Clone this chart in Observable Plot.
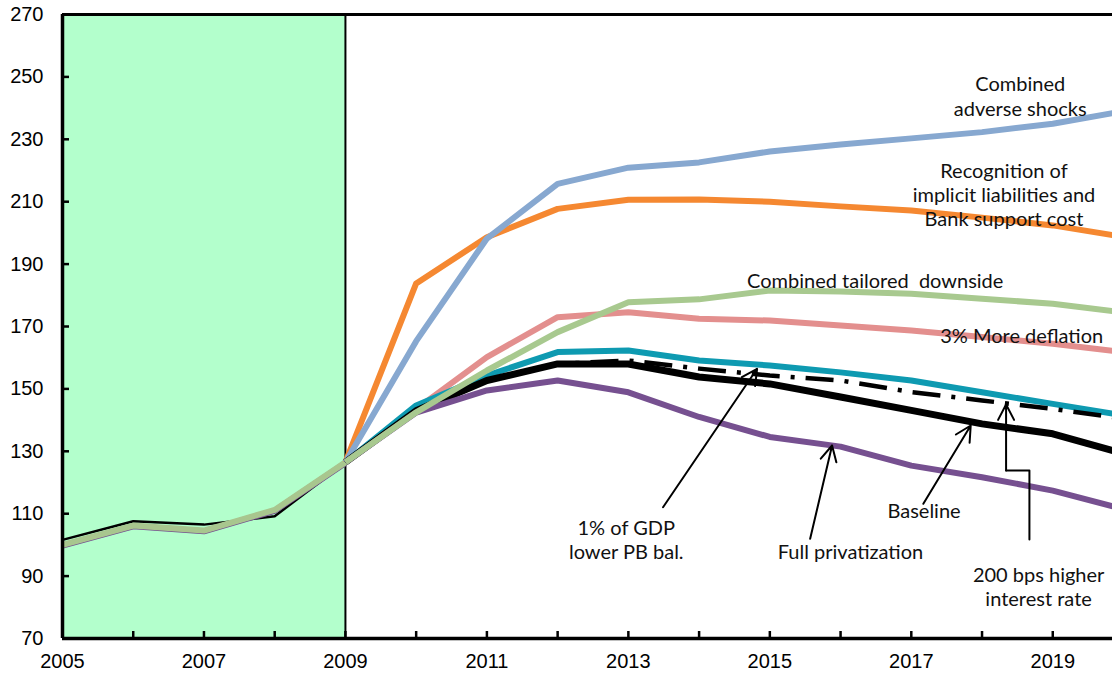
<!DOCTYPE html>
<html>
<head>
<meta charset="utf-8">
<script src="https://cdn.jsdelivr.net/npm/d3@7"></script>
<script src="https://cdn.jsdelivr.net/npm/@observablehq/plot@0.6"></script>
<style>
  html, body { margin: 0; padding: 0; background: white; overflow: hidden; }
</style>
</head>
<body>
<div id="chart"></div>
<script>
// ---------- data ----------
const histYears = [2005, 2006, 2007, 2008, 2009];
const histScenarios = [100, 106.2, 104.6, 111.2, 126.5];
const histBaseline = [101.6, 107.6, 106.5, 109.2, 126.3];

const years = [2009, 2010, 2011, 2012, 2013, 2014, 2015, 2016, 2017, 2018, 2019, 2020];
const adverseShocks   = [126.5, 165.3, 198.2, 215.7, 220.9, 222.6, 226.1, 228.3, 230.3, 232.3, 235.0, 239.0];
const recognition     = [126.5, 183.8, 198.6, 207.7, 210.6, 210.7, 210.0, 208.5, 207.2, 204.9, 202.4, 198.7];
const tailored        = [126.5, 142.5, 155.9, 168.2, 177.8, 178.7, 181.5, 181.2, 180.5, 178.9, 177.3, 174.5];
const deflation       = [126.5, 143.5, 160.2, 173.0, 174.6, 172.5, 171.9, 170.3, 168.7, 166.6, 164.5, 161.8];
const lowerPB         = [126.5, 144.7, 154.3, 161.8, 162.3, 159.1, 157.5, 155.3, 152.7, 148.9, 145.2, 141.5];
const higherRate      = [126.5, 143.0, 152.7, 158.0, 159.1, 156.5, 154.3, 152.7, 149.0, 146.3, 143.6, 140.5];
const baseline        = [126.5, 143.0, 152.7, 158.0, 158.0, 153.8, 151.6, 147.4, 143.1, 138.8, 135.6, 129.3];
const privatization   = [126.5, 142.4, 149.5, 152.7, 148.9, 141.0, 134.6, 131.5, 125.4, 121.7, 117.4, 111.5];

const shadedPeriods = [{start: 2005, end: 2009}];
const yTicks = [70, 90, 110, 130, 150, 170, 190, 210, 230, 250, 270];
const xTickYears = d3.range(2005, 2021);
const xLabelYears = [2005, 2007, 2009, 2011, 2013, 2015, 2017, 2019];

// annotation labels (data coordinates)
const labels = [
  {x: 2018.54, y: 244.0, text: "Combined\nadverse shocks"},
  {x: 2018.31, y: 212.4, text: "Recognition of\nimplicit liabilities and\nBank support cost"},
  {x: 2016.49, y: 185.0, text: "Combined tailored  downside"},
  {x: 2018.56, y: 167.15, text: "3% More deflation"},
  {x: 2012.97, y: 101.76, text: "1% of GDP\nlower PB bal."},
  {x: 2016.14, y: 97.9, text: "Full privatization"},
  {x: 2017.18, y: 111.28, text: "Baseline"},
  {x: 2018.80, y: 86.83, text: "200 bps higher\ninterest rate"}
];
const arrows = [
  {x1: 2013.49, y1: 112.08, x2: 2014.82, y2: 156.44},
  {x1: 2015.57, y1: 101.96, x2: 2015.88, y2: 131.86},
  {x1: 2017.17, y1: 113.17, x2: 2017.84, y2: 138.27},
  {x1: 2018.34, y1: 123.85, x2: 2018.34, y2: 145.0}
];
const elbow = [
  {x: 2018.67, y: 101.73},
  {x: 2018.67, y: 123.85},
  {x: 2018.34, y: 123.85}
];

// ---------- build ----------
const rows = (xs, vals) => xs.map((year, i) => ({year, value: vals[i]}));
const lineOpts = {x: "year", y: "value", strokeLinejoin: "round", strokeLinecap: "butt"};

const chart = Plot.plot({
  width: 1123,
  height: 677,
  marginLeft: 62,
  marginRight: 0,
  marginTop: 14,
  marginBottom: 39,
  x: {domain: [2005, 2020]},
  y: {domain: [70, 270]},
  style: {
    fontFamily: "'Liberation Sans', Arial, sans-serif",
    fontSize: "20px",
    color: "#000",
    background: "white",
    maxWidth: "none",
    overflow: "hidden"
  },
  marks: [
    Plot.rect(shadedPeriods, {x1: "start", x2: "end", y1: 70, y2: 270, fill: "#B3FFCC"}),
    Plot.ruleX([2009], {stroke: "black", strokeWidth: 2}),
    // history
    Plot.line(rows(histYears, histBaseline), {...lineOpts, stroke: "black", strokeWidth: 2.5}),
    Plot.line(rows(histYears, histScenarios), {...lineOpts, stroke: "#765090", strokeWidth: 6, dy: 0.8}),
    Plot.line(rows(histYears, histScenarios), {...lineOpts, stroke: "#A8C68E", strokeWidth: 6}),
    // projections
    Plot.line(rows(years, recognition), {...lineOpts, stroke: "#F58831", strokeWidth: 6}),
    Plot.line(rows(years, adverseShocks), {...lineOpts, stroke: "#87A8D0", strokeWidth: 6}),
    Plot.line(rows(years, deflation), {...lineOpts, stroke: "#E38F8E", strokeWidth: 6}),
    Plot.line(rows(years, lowerPB), {...lineOpts, stroke: "#0E9AB1", strokeWidth: 6}),
    Plot.line(rows(years, baseline), {...lineOpts, stroke: "black", strokeWidth: 7}),
    Plot.line(rows(years, higherRate), {...lineOpts, stroke: "black", strokeWidth: 4.5, strokeDasharray: "28,11,4,11"}),
    Plot.line(rows(years, privatization), {...lineOpts, stroke: "#765090", strokeWidth: 6}),
    Plot.line(rows(years, tailored), {...lineOpts, stroke: "#A8C98F", strokeWidth: 6}),
    // frame
    Plot.ruleY([270], {stroke: "black", strokeWidth: 3}),
    Plot.ruleY([70], {stroke: "black", strokeWidth: 3.5}),
    Plot.ruleX([2005], {stroke: "black", strokeWidth: 3.5}),
    // inward tick marks
    Plot.axisX({ticks: xTickYears, tickSize: 7, dy: -7, tickFormat: () => "", label: null, strokeWidth: 2.5}),
    Plot.axisY({ticks: yTicks, tickSize: 7, dx: 7, tickFormat: () => "", label: null, strokeWidth: 2.5}),
    // axis labels
    Plot.axisY({ticks: yTicks, tickSize: 0, tickPadding: 19, label: null, fontSize: 20}),
    Plot.axisX({ticks: xLabelYears, tickSize: 0, tickPadding: 15, label: null, tickFormat: d => String(d), fontSize: 20}),
    // annotations
    Plot.line(elbow, {x: "x", y: "y", stroke: "black", strokeWidth: 2}),
    Plot.arrow(arrows, {x1: "x1", y1: "y1", x2: "x2", y2: "y2", stroke: "black", strokeWidth: 2, headLength: 13, headAngle: 55}),
    Plot.text(labels, {x: "x", y: "y", text: "text", fontFamily: "Lato, 'Open Sans', sans-serif", fontSize: 20, lineHeight: 1.22, fill: "#111"})
  ]
});
document.getElementById("chart").appendChild(chart);
</script>
</body>
</html>
